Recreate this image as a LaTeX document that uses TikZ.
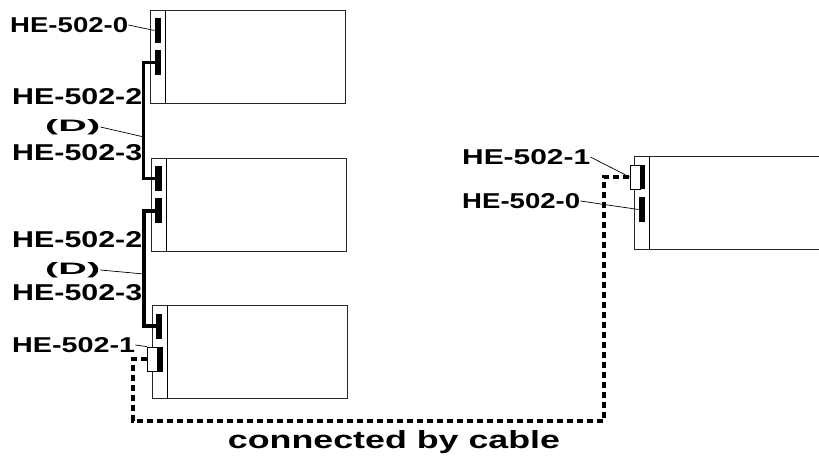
\documentclass[tikz,border=0pt]{standalone}
\usepackage{fontspec}
\setmainfont{Liberation Sans}
\usepackage{graphicx}
\begin{document}
\begin{tikzpicture}[x=1pt,y=-1pt,
  box/.style={draw=black!85,line width=1.1pt,minimum width=195pt,minimum height=93pt,inner sep=0pt,anchor=north west},
  port/.style={fill=black,draw=none,minimum width=6.5pt,minimum height=25pt,inner sep=0pt},
  wport/.style={fill=white,draw=black,line width=0.8pt,minimum width=10pt,minimum height=24pt,inner sep=0pt},
  lbl/.style={inner sep=0pt,anchor=west},
  leader/.style={line width=0.7pt},
  bus/.style={line width=3.2pt},
  link/.style={line width=3.2pt,dash pattern=on 6.5pt off 3.5pt}]
\useasboundingbox (0,0) rectangle (819,457);
\begin{scope}
\clip (0,0) rectangle (819,457);
% boxes
\node[box] (b1) at (150,10) {};
\node[box] (b2) at (151,158) {};
\node[box] (b3) at (152,305) {};
\node[box] (b4) at (634,156) {};
\draw[line width=1pt] (165,10) -- (165,103);
\draw[line width=1pt] (166,158) -- (166,251);
\draw[line width=1pt] (167,305) -- (167,398);
\draw[line width=1pt] (649,156) -- (649,249);
% ports
\node[port] (p11) at (158,30.5) {};
\node[port] (p12) at (158,62.5) {};
\node[port] (p21) at (158.5,178.5) {};
\node[port] (p22) at (158.5,211) {};
\node[port] (p31) at (159,326) {};
\node[port,minimum width=5.5pt] (p32) at (160,359) {};
\node[wport] (w3) at (152.5,359) {};
\node[port,minimum width=5.5pt,minimum height=24pt] (p41) at (642.5,177) {};
\node[wport] (w4) at (635,177) {};
\node[port,minimum height=25pt] (p42) at (642,209.5) {};
% bus lines
\draw[bus] (p12.west) -- ++(-11,0) |- (p21.west);
\draw[bus] (p22.west) -- ++(-11,0) |- (p31.west);
\coordinate (v1) at (144,137);
\coordinate (v2) at (144,274);
% dashed link
\draw[link] (w3.west) -- (133,359) |- (604,421) |- (w4.west);
% labels
\node[lbl] (l1) at (10,25) {\resizebox{118pt}{15pt}{\bfseries HE-502-0}};
\node[lbl] (l2) at (12,97) {\resizebox{130pt}{16pt}{\bfseries HE-502-2}};
\node[lbl] (d1) at (45,127) {\resizebox{55pt}{12pt}{\bfseries (D)}};
\node[lbl] (l3) at (12,153) {\resizebox{130pt}{16pt}{\bfseries HE-502-3}};
\node[lbl] (l2b) at (12,240) {\resizebox{130pt}{16pt}{\bfseries HE-502-2}};
\node[lbl] (d2) at (45,270) {\resizebox{55pt}{12pt}{\bfseries (D)}};
\node[lbl] (l3b) at (12,293) {\resizebox{130pt}{16pt}{\bfseries HE-502-3}};
\node[lbl] (l1c) at (12,345) {\resizebox{123pt}{15pt}{\bfseries HE-502-1}};
\node[lbl] (r1) at (462,157) {\resizebox{128pt}{15pt}{\bfseries HE-502-1}};
\node[lbl] (r2) at (462,201) {\resizebox{118pt}{15pt}{\bfseries HE-502-0}};
\node[inner sep=0pt] (cap) at (394,442) {\resizebox{332pt}{18pt}{\bfseries connected by cable}};
% leaders
\draw[leader] (l1.east) -- (p11.west);
\draw[leader] (d1.east) -- (v1);
\draw[leader] (d2.east) -- (v2);
\draw[leader] (l1c.east) -- (w3.north west);
\draw[leader] (r1.east) -- (w4.west);
\draw[leader] (r2.east) -- (p42.west);
\end{scope}
\end{tikzpicture}
\end{document}
